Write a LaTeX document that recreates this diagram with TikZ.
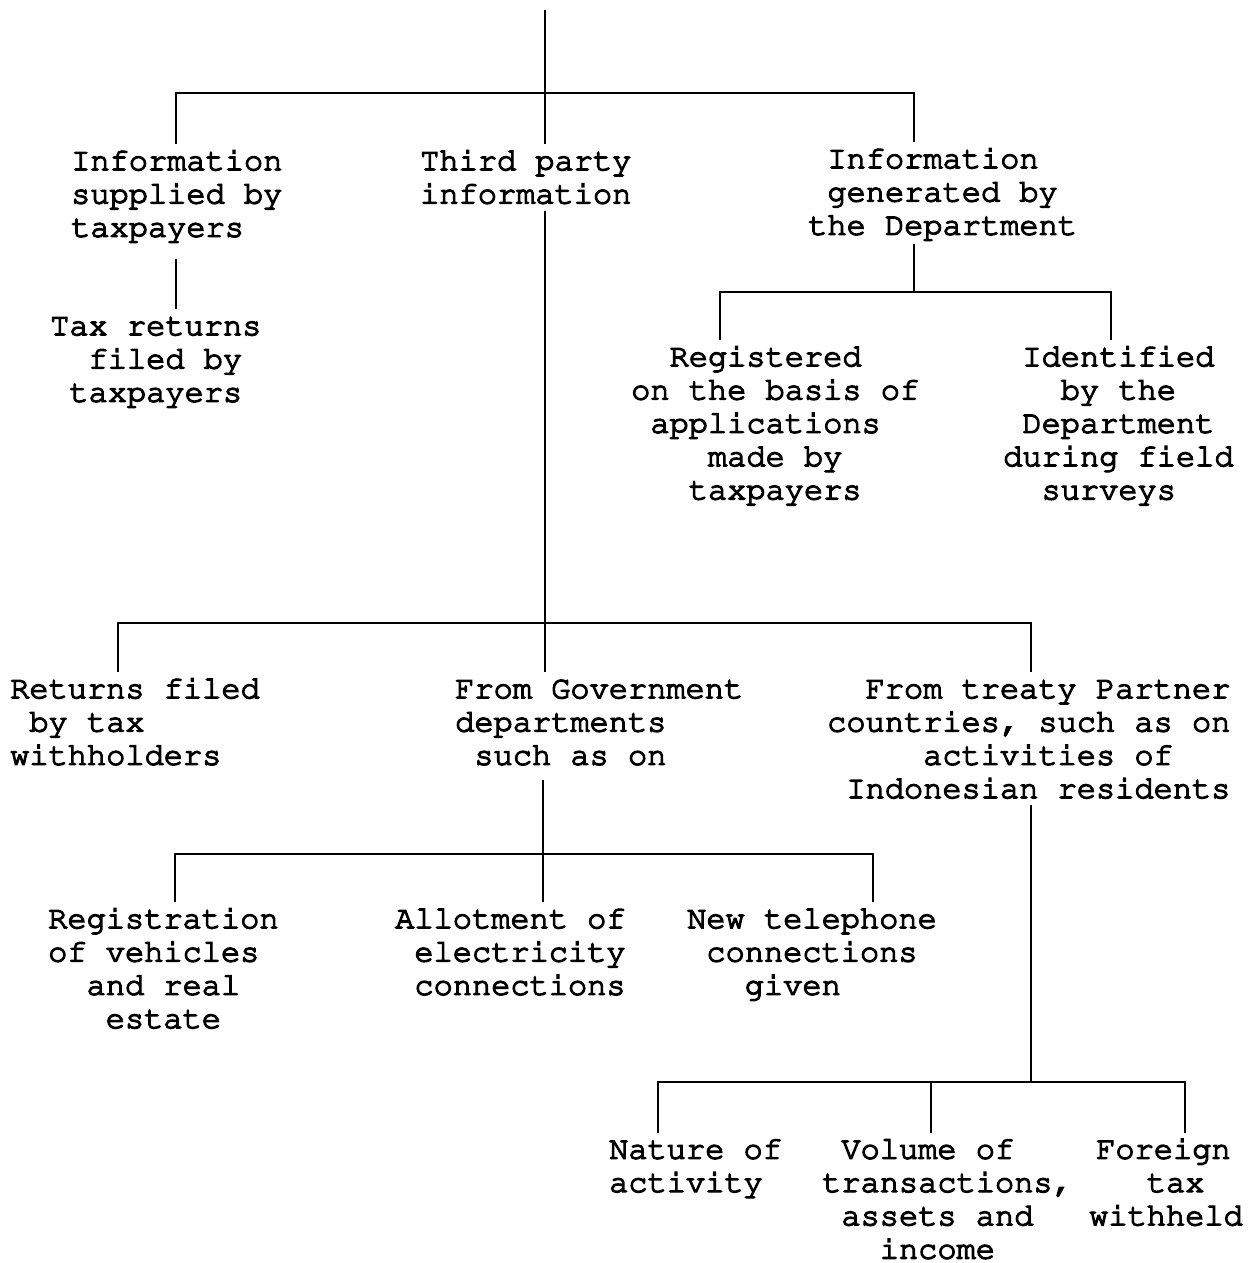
\documentclass[tikz,border=0pt]{standalone}
\usepackage[T1]{fontenc}
\usetikzlibrary{calc}
% Courier-style typewriter face, slightly thickened by stroking the outlines
\newcommand\cour{\fontencoding{T1}\fontfamily{pcr}\fontseries{m}\selectfont}
\newcommand\heavy{\special{pdf:literal direct 2 Tr 1.3 w}}
% indent by n character cells of the monospace font
\newcommand\ind[1]{\hspace*{\dimexpr 0.6em*#1\relax}}
\newcommand\lstr{\strut}
\begin{document}
\begin{tikzpicture}[x=1pt,y=-1pt,
  lbl/.style={anchor=north west, inner sep=0pt, align=left,
    font=\cour\fontsize{32}{33.3}\selectfont\heavy},
  tree/.style={line width=2.4pt, line join=miter}]
\useasboundingbox[fill=white] (0,0) rectangle (1248,1263);

% text blocks (placed by left edge and first baseline)
\node[lbl] (A) at (71,146.7) {\lstr Information\\\lstr supplied by\\\lstr taxpayers};
\node[lbl] (B) at (420,146.7) {\lstr Third party\\\lstr information};
\node[lbl] (C) at (808,144.7) {\lstr\ind{1}Information\\\lstr\ind{1}generated by\\\lstr the Department};
\node[lbl] (D) at (50,311.7) {\lstr Tax returns\\\lstr\ind{2}filed by\\\lstr\ind{1}taxpayers};
\node[lbl] (E) at (631,342.7) {\lstr\ind{2}Registered\\\lstr on the basis of\\\lstr\ind{1}applications\\\lstr\ind{4}made by\\\lstr\ind{3}taxpayers};
\node[lbl] (F) at (1003,342.7) {\lstr\ind{1}Identified\\\lstr\ind{3}by the\\\lstr\ind{1}Department\\\lstr during field\\\lstr\ind{2}surveys};
\node[lbl] (G) at (10,674.7) {\lstr Returns filed\\\lstr\ind{1}by tax\\\lstr withholders};
\node[lbl] (H) at (455,674.7) {\lstr From Government\\\lstr departments\\\lstr\ind{1}such as on};
\node[lbl] (I) at (827,674.7) {\lstr\ind{2}From treaty Partner\\\lstr countries, such as on\\\lstr\ind{5}activities of\\\lstr\ind{1}Indonesian residents};
\node[lbl] (J) at (48,904.7) {\lstr Registration\\\lstr of vehicles\\\lstr\ind{2}and real\\\lstr\ind{3}estate};
\node[lbl] (K) at (395,904.7) {\lstr Allotment of\\\lstr\ind{1}electricity\\\lstr\ind{1}connections};
\node[lbl] (L) at (687,904.7) {\lstr New telephone\\\lstr\ind{1}connections\\\lstr\ind{3}given};
\node[lbl] (M) at (609,1135.2) {\lstr Nature of\\\lstr activity};
\node[lbl] (N) at (822,1135.2) {\lstr\ind{1}Volume of\\\lstr transactions,\\\lstr\ind{1}assets and\\\lstr\ind{3}income};
\node[lbl] (O) at (1089,1135.2) {\lstr\hspace*{7pt}Foreign\\\lstr\ind{3}tax\\\lstr withheld};

% junction points
\coordinate (top) at (545,10);
\coordinate (jA) at (176,93);
\coordinate (jC) at (914,93);
\coordinate (jCm) at (914,292);
\coordinate (jE) at (720,292);
\coordinate (jF) at (1111,292);
\coordinate (jB) at (545,623);
\coordinate (jG) at (118,623);
\coordinate (jI) at (1031,623);
\coordinate (jH) at (543,854);
\coordinate (jJ) at (175,854);
\coordinate (jL) at (873,854);
\coordinate (jIm) at (1031,1082);
\coordinate (jM) at (658,1082);
\coordinate (jN) at (931,1082);
\coordinate (jO) at (1185,1082);

% first level
\draw[tree] (top) -- ($(top |- B.north)+(0,-3)$);
\draw[tree] ($(jA |- A.north)+(0,-3)$) -- (jA) -- (jC) -- ($(jC |- C.north)+(0,-3)$);
\draw[tree] ($(jA |- A.south)+(0,12)$) -- ($(jA |- D.north)+(0,-3)$);

% departmental information
\draw[tree] ($(jC |- C.south)+(0,-1)$) -- (jCm);
\draw[tree] ($(jE |- E.north)+(0,-3)$) -- (jE) -- (jF) -- ($(jF |- F.north)+(0,-3)$);

% third party information
\draw[tree] ($(jB |- B.south)+(0,-3)$) -- ($(jB |- H.north)+(0,-3)$);
\draw[tree] ($(jG |- G.north)+(0,-3)$) -- (jG) -- (jI) -- ($(jI |- I.north)+(0,-3)$);

% government departments
\draw[tree] ($(jH |- H.south)+(0,5)$) -- ($(jH |- K.north)+(0,-3)$);
\draw[tree] ($(jJ |- J.north)+(0,-3)$) -- (jJ) -- (jL) -- ($(jL |- L.north)+(0,-3)$);

% treaty partner countries
\draw[tree] ($(jIm |- I.south)+(0,-3)$) -- (jIm);
\draw[tree] ($(jM |- M.north)+(0,-2)$) -- (jM) -- (jO) -- ($(jO |- O.north)+(0,-2)$);
\draw[tree] (jN) -- ($(jN |- N.north)+(0,-2)$);
\end{tikzpicture}
\end{document}
